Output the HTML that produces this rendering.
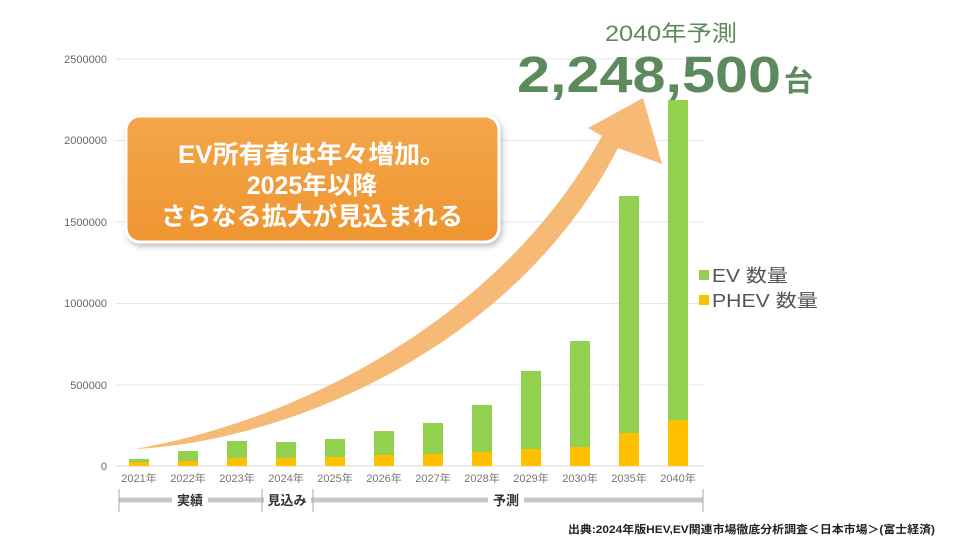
<!DOCTYPE html>
<html><head><meta charset="utf-8"><style>
body{margin:0;background:#fff;}
svg{display:block;font-family:"Liberation Sans","Noto Sans CJK JP",sans-serif;}
</style></head><body>
<svg width="976" height="549" viewBox="0 0 976 549" xmlns="http://www.w3.org/2000/svg">
<defs>
<linearGradient id="box" x1="0" y1="0" x2="0" y2="1"><stop offset="0" stop-color="#f4a64a"/><stop offset="1" stop-color="#ee9530"/></linearGradient>
<filter id="sh" x="-10%" y="-10%" width="130%" height="130%"><feDropShadow dx="2" dy="3" stdDeviation="3" flood-color="#000" flood-opacity="0.25"/></filter>
</defs>
<g stroke="#e6e6e6" stroke-width="1">
<line x1="115" y1="59" x2="705" y2="59"/><line x1="115" y1="140.5" x2="705" y2="140.5"/><line x1="115" y1="222" x2="705" y2="222"/><line x1="115" y1="303.5" x2="705" y2="303.5"/><line x1="115" y1="385" x2="705" y2="385"/><line x1="115" y1="466" x2="705" y2="466" stroke="#d8d8d8"/>
</g>
<g font-size="11" fill="#666" text-anchor="end">
<text x="107" y="63">2500000</text><text x="107" y="144">2000000</text><text x="107" y="226">1500000</text><text x="107" y="307">1000000</text><text x="107" y="389">500000</text><text x="107" y="470">0</text>
</g>
<g>
<rect x="129" y="459" width="20" height="7" fill="#92d050"/><rect x="129" y="462" width="20" height="4" fill="#ffc000"/>
<rect x="178" y="451" width="20" height="15" fill="#92d050"/><rect x="178" y="461" width="20" height="5" fill="#ffc000"/>
<rect x="227" y="441" width="20" height="25" fill="#92d050"/><rect x="227" y="458" width="20" height="8" fill="#ffc000"/>
<rect x="276" y="442" width="20" height="24" fill="#92d050"/><rect x="276" y="458" width="20" height="8" fill="#ffc000"/>
<rect x="325" y="439" width="20" height="27" fill="#92d050"/><rect x="325" y="457" width="20" height="9" fill="#ffc000"/>
<rect x="374" y="431" width="20" height="35" fill="#92d050"/><rect x="374" y="455" width="20" height="11" fill="#ffc000"/>
<rect x="423" y="423" width="20" height="43" fill="#92d050"/><rect x="423" y="454" width="20" height="12" fill="#ffc000"/>
<rect x="472" y="405" width="20" height="61" fill="#92d050"/><rect x="472" y="452" width="20" height="14" fill="#ffc000"/>
<rect x="521" y="371" width="20" height="95" fill="#92d050"/><rect x="521" y="449" width="20" height="17" fill="#ffc000"/>
<rect x="570" y="341" width="20" height="125" fill="#92d050"/><rect x="570" y="447" width="20" height="19" fill="#ffc000"/>
<rect x="619" y="196" width="20" height="270" fill="#92d050"/><rect x="619" y="433" width="20" height="33" fill="#ffc000"/>
<rect x="668" y="100" width="20" height="366" fill="#92d050"/><rect x="668" y="420" width="20" height="46" fill="#ffc000"/>
</g>
<g font-size="11" fill="#777" text-anchor="middle">
<text x="139" y="482">2021年</text><text x="188" y="482">2022年</text><text x="237" y="482">2023年</text><text x="286" y="482">2024年</text><text x="335" y="482">2025年</text><text x="384" y="482">2026年</text><text x="433" y="482">2027年</text><text x="482" y="482">2028年</text><text x="531" y="482">2029年</text><text x="580" y="482">2030年</text><text x="629" y="482">2035年</text><text x="678" y="482">2040年</text>
</g>
<path d="M135,449 C300,440 520,340 618,148 L662,164 L643,98 L588,128 L602,136 C500,320 300,420 135,449 Z" fill="#f5b46a" opacity="0.92"/>
<rect x="126" y="116" width="373" height="126" rx="14" fill="url(#box)" stroke="#fff" stroke-width="3" filter="url(#sh)"/>
<g font-size="25" font-weight="bold" fill="#fff" text-anchor="middle">
<text x="312" y="163" textLength="268" lengthAdjust="spacingAndGlyphs">EV所有者は年々増加。</text><text x="312" y="194">2025年以降</text><text x="312" y="225" textLength="302" lengthAdjust="spacingAndGlyphs">さらなる拡大が見込まれる</text>
</g>
<text x="605" y="41" font-size="22" fill="#5c8a5c" textLength="132" lengthAdjust="spacingAndGlyphs">2040年予測</text>
<text x="517" y="92" font-size="51" font-weight="bold" fill="#5c8a5c" textLength="264" lengthAdjust="spacingAndGlyphs">2,248,500</text>
<text x="784" y="91" font-size="29" font-weight="bold" fill="#5c8a5c">台</text>
<rect x="699" y="270" width="10" height="10" fill="#92d050"/><text x="712" y="282" font-size="18" fill="#555" textLength="76" lengthAdjust="spacingAndGlyphs">EV 数量</text>
<rect x="699" y="295" width="10" height="10" fill="#ffc000"/><text x="712" y="307" font-size="18" fill="#555" textLength="106" lengthAdjust="spacingAndGlyphs">PHEV 数量</text>
<line x1="119" y1="500" x2="703" y2="500" stroke="#c8c8c8" stroke-width="5"/>
<g stroke="#aaa" stroke-width="1"><line x1="119" y1="489" x2="119" y2="512"/><line x1="262" y1="489" x2="262" y2="512"/><line x1="313" y1="489" x2="313" y2="512"/><line x1="703" y1="489" x2="703" y2="512"/></g>
<g font-size="13" font-weight="bold" fill="#333" text-anchor="middle">
<rect x="172" y="492" width="36" height="16" fill="#fff"/><text x="190" y="505">実績</text>
<rect x="264" y="492" width="47" height="16" fill="#fff"/><text x="287" y="505">見込み</text>
<rect x="488" y="492" width="36" height="16" fill="#fff"/><text x="506" y="505">予測</text>
</g>
<text x="568" y="533" font-size="11" font-weight="bold" fill="#222" textLength="367" lengthAdjust="spacingAndGlyphs">出典:2024年版HEV,EV関連市場徹底分析調査＜日本市場＞(富士経済)</text>
</svg>
</body></html>
